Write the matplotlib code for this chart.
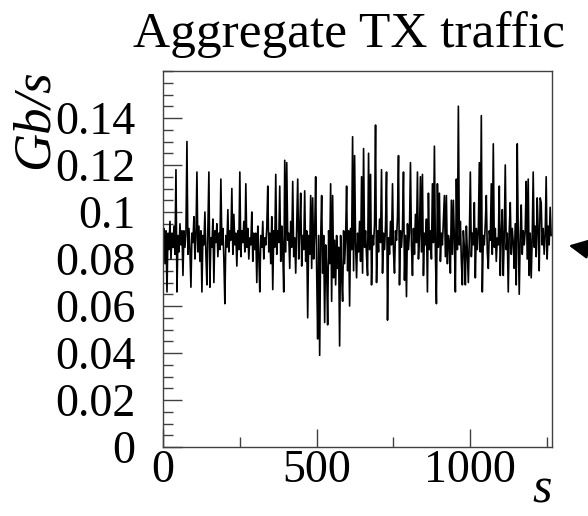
import numpy as np
import matplotlib
matplotlib.use("Agg")
import matplotlib.pyplot as plt
from matplotlib.ticker import FixedLocator

plt.rcParams["font.family"] = ["Liberation Serif", "DejaVu Serif"]

# Aggregate TX traffic, one sample every 3.25 s, in Mb/s
traffic_mbps = [
    86, 93, 78, 92, 66, 91, 84, 96, 80, 91, 85, 94, 82, 118, 66, 90, 83, 95, 86, 92,
    73, 92, 85, 91, 130, 82, 93, 84, 68, 91, 87, 98, 80, 89, 117, 83, 94, 79, 92, 66,
    90, 86, 100, 82, 69, 92, 117, 68, 89, 85, 97, 70, 92, 87, 95, 81, 91, 84, 114, 86,
    93, 80, 61, 90, 85, 101, 83, 92, 88, 110, 82, 99, 86, 91, 77, 92, 84, 117, 81, 92,
    87, 96, 83, 112, 85, 93, 80, 89, 86, 100, 79, 91, 84, 91, 70, 94, 82, 66, 90, 85,
    96, 80, 89, 86, 93, 111, 83, 91, 78, 98, 67, 92, 85, 116, 82, 92, 87, 111, 79, 94,
    84, 66, 122, 83, 121, 88, 91, 76, 96, 85, 113, 81, 89, 74, 94, 114, 80, 92, 108, 77,
    90, 84, 109, 79, 92, 55, 90, 82, 107, 76, 106, 80, 91, 115, 75, 46, 90, 39, 88, 107,
    74, 90, 53, 86, 76, 52, 92, 78, 112, 62, 107, 72, 88, 69, 90, 76, 85, 43, 90, 73,
    62, 92, 78, 89, 111, 75, 92, 60, 93, 84, 132, 75, 124, 86, 72, 91, 83, 96, 79, 115,
    74, 127, 85, 92, 81, 73, 125, 84, 116, 69, 90, 86, 95, 137, 70, 92, 83, 97, 87, 118,
    74, 91, 84, 94, 117, 54, 89, 82, 96, 86, 112, 83, 74, 92, 88, 98, 124, 69, 92, 85,
    93, 117, 71, 90, 64, 95, 84, 92, 121, 86, 73, 93, 82, 99, 87, 117, 80, 90, 115, 83,
    116, 73, 91, 86, 97, 66, 108, 84, 92, 80, 112, 87, 128, 82, 61, 112, 85, 108, 79, 91,
    86, 96, 107, 81, 107, 78, 90, 87, 74, 105, 82, 105, 88, 66, 114, 84, 145, 86, 96, 79,
    69, 92, 85, 69, 94, 83, 70, 89, 117, 81, 91, 86, 104, 72, 93, 84, 92, 121, 83, 141,
    66, 90, 86, 95, 107, 83, 76, 92, 88, 112, 82, 129, 85, 93, 79, 89, 86, 111, 73, 91,
    101, 73, 90, 120, 84, 91, 66, 92, 104, 82, 93, 87, 76, 95, 69, 129, 90, 65, 90, 103,
    82, 92, 86, 92, 113, 80, 114, 73, 91, 72, 89, 117, 85, 94, 81, 106, 92, 75, 106, 104,
    86, 93, 82, 90, 115, 80, 94, 86, 102, 90,
]
sample_step_s = 3.25

y_ticks = [0, 0.02, 0.04, 0.06, 0.08, 0.1, 0.12, 0.14]
y_labels = ["0", "0.02", "0.04", "0.06", "0.08", "0.1", "0.12", "0.14"]
x_ticks = [0, 500, 1000]
x_labels = ["0", "500", "1000"]

gbps = np.array(traffic_mbps) / 1000.0
seconds = np.arange(len(gbps)) * sample_step_s

fig = plt.figure(figsize=(5.88, 5.16), dpi=100)
ax = fig.add_axes([0.2772, 0.1337, 0.6616, 0.7287])
ax.plot(seconds, gbps, color="black", linewidth=1.2)

ax.set_xlim(0, 1267)
ax.set_ylim(0, 0.16)
ax.set_yticks(y_ticks)
ax.set_yticklabels(y_labels)
ax.set_xticks(x_ticks)
ax.set_xticklabels(x_labels)
ax.yaxis.set_minor_locator(FixedLocator(np.arange(0, 0.1601, 0.005)))
ax.xaxis.set_minor_locator(FixedLocator([250, 750, 1250]))

ax.tick_params(which="both", direction="in", top=False, right=False,
               color="#404040", width=1.0, labelsize=33)
ax.tick_params(axis="y", which="major", length=14, pad=20)
ax.tick_params(axis="y", which="minor", length=7)
ax.tick_params(axis="x", which="major", length=13, pad=2)
ax.tick_params(axis="x", which="minor", length=7)
for sp in ax.spines.values():
    sp.set_color("#404040")
    sp.set_linewidth(1.0)

fig.text(0.593, 0.909, "Aggregate TX traffic", fontsize=37, ha="center", va="baseline")
fig.text(35 / 588, 1 - 119 / 516, "Gb/s", fontsize=38, style="italic",
         rotation=90, ha="center", va="center")
fig.text(542 / 588, 0.026, "s", fontsize=36, style="italic", ha="center", va="baseline")

ax.annotate("", xy=(566 / 588, 1 - 245 / 516), xytext=(610 / 588, 1 - 253 / 516),
            xycoords="figure fraction", textcoords="figure fraction",
            arrowprops=dict(arrowstyle="-|>", color="black", lw=1.8, mutation_scale=30),
            annotation_clip=False)

fig.savefig("out.png", dpi=100)
